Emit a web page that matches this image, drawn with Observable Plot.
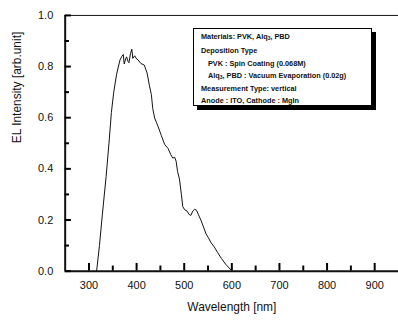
<!DOCTYPE html>
<html>
<head>
<meta charset="utf-8">
<script src="https://cdn.jsdelivr.net/npm/d3@7"></script>
<script src="https://cdn.jsdelivr.net/npm/@observablehq/plot@0.6"></script>
<style>
  html, body { margin: 0; padding: 0; background: #fff; overflow: hidden; width: 398px; height: 321px; }
  #wrap { position: relative; width: 398px; height: 321px; overflow: hidden; }
  #note {
    position: absolute; left: 193px; top: 28px; width: 179px; height: 78px;
    border: 1px solid #000; background: #fff; box-shadow: 4px 4px 0 #000;
    font-family: "Liberation Sans", Arial, sans-serif; font-weight: bold; font-size: 7.3px;
    color: #111; line-height: 1; box-sizing: border-box;
  }
  #note div { position: absolute; white-space: nowrap; }
  #note sub { font-size: 5px; vertical-align: -1px; }
</style>
</head>
<body>
<div id="wrap"></div>
<script>
const wavelength = [316,322,328,336,342,347,352,358,365,369,372,374,377,379,382,384,387,390,392,396,400,403,409,416,422,427,431,434,438,442,445,452,459,466,472,476,480,483,486,490,494,497,501,506,510,514,518,522,526,530,535,542,546,551,556,563,570,578,587,598];
const intensity = [0.0,0.1,0.22,0.37,0.5,0.62,0.7,0.77,0.825,0.84,0.847,0.81,0.83,0.838,0.82,0.815,0.85,0.868,0.832,0.842,0.83,0.826,0.812,0.806,0.775,0.725,0.69,0.635,0.598,0.58,0.566,0.53,0.495,0.48,0.455,0.442,0.445,0.43,0.39,0.36,0.3,0.252,0.24,0.235,0.222,0.218,0.235,0.242,0.238,0.22,0.2,0.165,0.145,0.13,0.112,0.095,0.073,0.05,0.027,0.005];
const xTicks = [300,400,500,600,700,800,900];
const xMinor = [350,450,550,650,750,850];
const yTicks = [0,0.2,0.4,0.6,0.8,1.0];
const yMinor = [0.1,0.3,0.5,0.7,0.9];
const xLabel = "Wavelength [nm]";
const yLabel = "EL Intensity [arb.unit]";
const noteLines = [
  "Materials: PVK, Alq<sub>3</sub>, PBD",
  "Deposition Type",
  "  PVK :  Spin Coating (0.068M)",
  "  Alq<sub>3</sub>, PBD : Vacuum Evaporation (0.02g)",
  "Measurement Type: vertical",
  "Anode : ITO, Cathode : MgIn"
];

const data = wavelength.map((w, i) => ({w, v: intensity[i]}));
const font = "Liberation Sans, Arial, sans-serif";
const ink = "#111";

const chart = Plot.plot({
  width: 400, height: 321,
  marginLeft: 65, marginRight: 0, marginTop: 15, marginBottom: 49,
  style: {fontFamily: font, fontSize: "11px", color: ink, background: "white"},
  x: {domain: [250, 950]},
  y: {domain: [0, 1]},
  marks: [
    Plot.ruleX([250], {stroke: ink, strokeWidth: 2}),
    Plot.ruleY([0], {stroke: ink, strokeWidth: 2}),
    Plot.ruleY([1], {stroke: ink, strokeWidth: 1}),
    Plot.ruleX(xTicks, {x: d => d, y1: () => 0, y2: () => 0.03, stroke: "#000", strokeWidth: 2}),
    Plot.ruleX(xMinor, {x: d => d, y1: () => 0, y2: () => 0.02, stroke: "#000", strokeWidth: 2}),
    Plot.ruleY(yTicks, {y: d => d, x1: () => 250, x2: () => 263, stroke: "#000", strokeWidth: 2}),
    Plot.ruleY(yMinor, {y: d => d, x1: () => 250, x2: () => 259, stroke: "#000", strokeWidth: 2}),
    Plot.axisX({ticks: xTicks, tickSize: 0, tickPadding: 10, label: null, fontSize: 11}),
    Plot.axisY({ticks: yTicks, tickSize: 0, tickPadding: 12, tickFormat: d3.format(".1f"), label: null, fontSize: 11}),
    Plot.text([xLabel], {text: d => d, frameAnchor: "bottom", dy: 40, fontSize: 12}),
    Plot.text([yLabel], {text: d => d, frameAnchor: "left", dx: -48, rotate: -90, fontSize: 12}),
    Plot.line(data, {x: "w", y: "v", stroke: ink, strokeWidth: 1})
  ]
});
const wrap = document.getElementById("wrap");
wrap.appendChild(chart);

const note = document.createElement("div");
note.id = "note";
const tops = [4, 18, 31, 43, 56, 68];
noteLines.forEach((s, i) => {
  const d = document.createElement("div");
  d.style.top = tops[i] + "px";
  d.style.left = (s.startsWith("  ") ? 14 : 7) + "px";
  d.innerHTML = s.trim();
  note.appendChild(d);
});
wrap.appendChild(note);
</script>
</body>
</html>
